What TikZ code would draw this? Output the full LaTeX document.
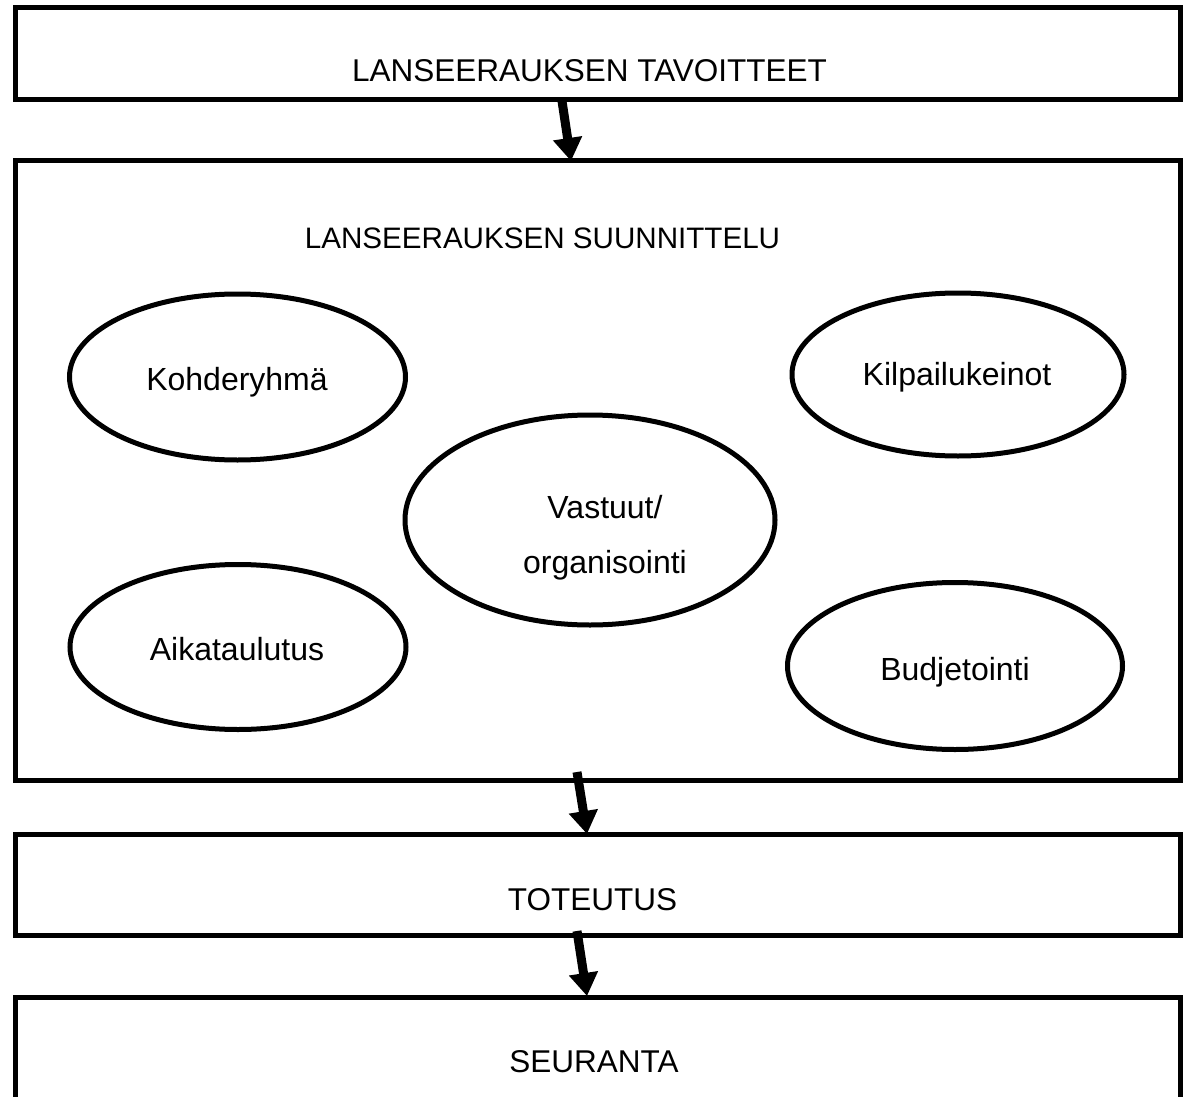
\documentclass[tikz,border=0pt]{standalone}
\usepackage{fontspec}
\setmainfont{Liberation Sans}
\usetikzlibrary{shapes.geometric,arrows.meta}

\tikzset{
  stagebox/.style={draw, line width=5pt, rectangle, inner sep=0pt},
  topic/.style={draw, line width=5pt, ellipse, inner sep=0pt},
  boxtext/.style={anchor=base, inner sep=0pt, font=\fontsize{31.5}{37}\selectfont},
  topictext/.style={anchor=base, inner sep=0pt, font=\fontsize{32}{55}\selectfont, align=center},
  flow/.style={line width=9pt, -{Triangle[width=28pt,length=23pt]}}
}

\begin{document}
\begin{tikzpicture}[x=1pt, y=-1pt]
  \clip (0,0) rectangle (1186,1097);
  \fill[white] (0,0) rectangle (1186,1097);

  % process stages
  \node[stagebox, minimum width=1165pt, minimum height=92pt]  (goals) at (597.5,53.5) {};
  \node[stagebox, minimum width=1165pt, minimum height=619.5pt] (plan) at (597.5,470.25) {};
  \node[stagebox, minimum width=1165pt, minimum height=101pt] (exec) at (597.5,885) {};
  \node[stagebox, minimum width=1165pt, minimum height=120pt] (follow) at (597.5,1057.5) {};

  \node[boxtext] (goalsT)  at (589.5,82) {LANSEERAUKSEN TAVOITTEET};
  \node[boxtext, font=\fontsize{29.6}{36}\selectfont] (planT) at (542.5,248) {LANSEERAUKSEN SUUNNITTELU};
  \node[boxtext] (execT)   at (592.5,910) {TOTEUTUS};
  \node[boxtext] (followT) at (594,1072)  {SEURANTA};

  % planning topics
  \node[topic, minimum width=336pt, minimum height=166pt] (target) at (237.5,377) {};
  \node[topic, minimum width=332pt, minimum height=163pt] (compete) at (958,374.5) {};
  \node[topic, minimum width=370pt, minimum height=210pt] (resp) at (590,520) {};
  \node[topic, minimum width=336pt, minimum height=165pt] (sched) at (238,647) {};
  \node[topic, minimum width=335pt, minimum height=167pt] (budget) at (955,666) {};

  \node[topictext] (targetT)  at (237,390)  {Kohderyhmä};
  \node[topictext] (competeT) at (957,385)  {Kilpailukeinot};
  \node[topictext] (respT)    at (605,573)  {Vastuut/\\organisointi};
  \node[topictext] (schedT)   at (237,660)  {Aikataulutus};
  \node[topictext] (budgetT)  at (955,680)  {Budjetointi};

  % flow arrows between stages
  \coordinate (a1s) at (562,101);
  \coordinate (a1e) at (571,161);
  \coordinate (a2s) at (577,772);
  \coordinate (a2e) at (587,834);
  \coordinate (a3s) at (577,931);
  \coordinate (a3e) at (587,996);
  \draw[flow] (a1s) -- (a1e);
  \draw[flow] (a2s) -- (a2e);
  \draw[flow] (a3s) -- (a3e);
\end{tikzpicture}
\end{document}
